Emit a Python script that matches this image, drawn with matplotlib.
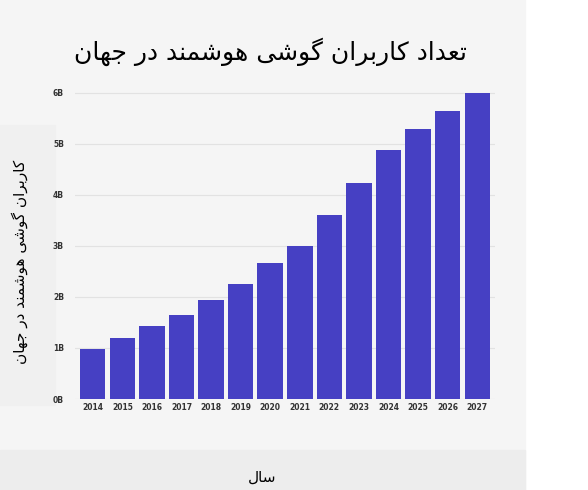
import matplotlib.pyplot as plt
from matplotlib.patches import Rectangle

years = ['2014', '2015', '2016', '2017', '2018', '2019', '2020',
         '2021', '2022', '2023', '2024', '2025', '2026', '2027']
users = [0.98, 1.2, 1.42, 1.64, 1.93, 2.25, 2.66, 3.0, 3.6, 4.23, 4.88, 5.28, 5.63, 6.0]
tick_vals = [0, 1, 2, 3, 4, 5, 6]
tick_labels = ['0B', '1B', '2B', '3B', '4B', '5B', '6B']

title = 'تعداد کاربران گوشی هوشمند در جهان'
ylab = 'کاربران گوشی هوشمند در جهان'
xlab = 'سال'

# presentation forms: isolated, final, initial, medial
FORMS = {
    'ت': ('\uFE95', '\uFE96', '\uFE97', '\uFE98'),
    'ع': ('\uFEC9', '\uFECA', '\uFECB', '\uFECC'),
    'د': ('\uFEA9', '\uFEAA', None, None),
    'ا': ('\uFE8D', '\uFE8E', None, None),
    'ک': ('\uFB8E', '\uFB8F', '\uFB90', '\uFB91'),
    'ر': ('\uFEAD', '\uFEAE', None, None),
    'ب': ('\uFE8F', '\uFE90', '\uFE91', '\uFE92'),
    'ن': ('\uFEE5', '\uFEE6', '\uFEE7', '\uFEE8'),
    'گ': ('\uFB92', '\uFB93', '\uFB94', '\uFB95'),
    'و': ('\uFEED', '\uFEEE', None, None),
    'ش': ('\uFEB5', '\uFEB6', '\uFEB7', '\uFEB8'),
    'ی': ('\uFBFC', '\uFBFD', '\uFBFE', '\uFBFF'),
    'ه': ('\uFEE9', '\uFEEA', '\uFEEB', '\uFEEC'),
    'م': ('\uFEE1', '\uFEE2', '\uFEE3', '\uFEE4'),
    'ج': ('\uFE9D', '\uFE9E', '\uFE9F', '\uFEA0'),
    'س': ('\uFEB1', '\uFEB2', '\uFEB3', '\uFEB4'),
    'ل': ('\uFEDD', '\uFEDE', '\uFEDF', '\uFEE0'),
}


def shape(text):
    out = []
    for i, ch in enumerate(text):
        if ch not in FORMS:
            out.append(ch)
            continue
        prev = text[i - 1] if i > 0 else ''
        nxt = text[i + 1] if i + 1 < len(text) else ''
        join_prev = prev in FORMS and FORMS[prev][2] is not None
        join_next = nxt in FORMS and FORMS[ch][2] is not None
        f = FORMS[ch]
        if join_prev and join_next:
            out.append(f[3])
        elif join_prev:
            out.append(f[1])
        elif join_next:
            out.append(f[2])
        else:
            out.append(f[0])
    return ''.join(out)[::-1]


plt.rcParams['font.family'] = ['DejaVu Sans']
fig = plt.figure(figsize=(5.88, 4.9), dpi=100)
W, H = 588, 490

def px_rect(x0, y0, x1, y1, color):
    fig.patches.append(Rectangle((x0 / W, 1 - y1 / H), (x1 - x0) / W, (y1 - y0) / H,
                                 transform=fig.transFigure, color=color, zorder=0))

px_rect(0, 0, 525, 490, '#f5f5f5')
px_rect(0, 125, 55, 405, '#f0f0f0')
px_rect(0, 450, 525, 490, '#ededed')

ax = fig.add_axes([75 / W, 1 - 399 / H, 420 / W, 309 / H])
ax.set_zorder(2)
ax.set_facecolor('#f5f5f5')
ax.bar(years, users, width=0.86, color='#4640c3', zorder=3)
ax.set_ylim(0, 6.05)
ax.set_xlim(-0.6, len(years) - 0.4)
ax.set_yticks(tick_vals)
ax.set_yticklabels(tick_labels, fontsize=5.5, fontweight='bold', color='#333333')
ax.tick_params(axis='x', labelsize=5.5, length=0, colors='#333333', pad=3)
for lbl in ax.get_xticklabels():
    lbl.set_fontweight('bold')
ax.tick_params(axis='y', length=0, pad=8)
ax.grid(axis='y', color='#e2e2e2', linewidth=0.8, zorder=0)
for s in ax.spines.values():
    s.set_visible(False)

fig.text(270 / W, 1 - 52 / H, shape(title), fontsize=18, ha='center', va='center')
fig.text(20 / W, 1 - 262 / H, shape(ylab), fontsize=11, rotation=90, ha='center', va='center')
fig.text(262 / W, 1 - 477 / H, shape(xlab), fontsize=11, ha='center', va='center')

fig.savefig('out.png', dpi=100, facecolor='white')
